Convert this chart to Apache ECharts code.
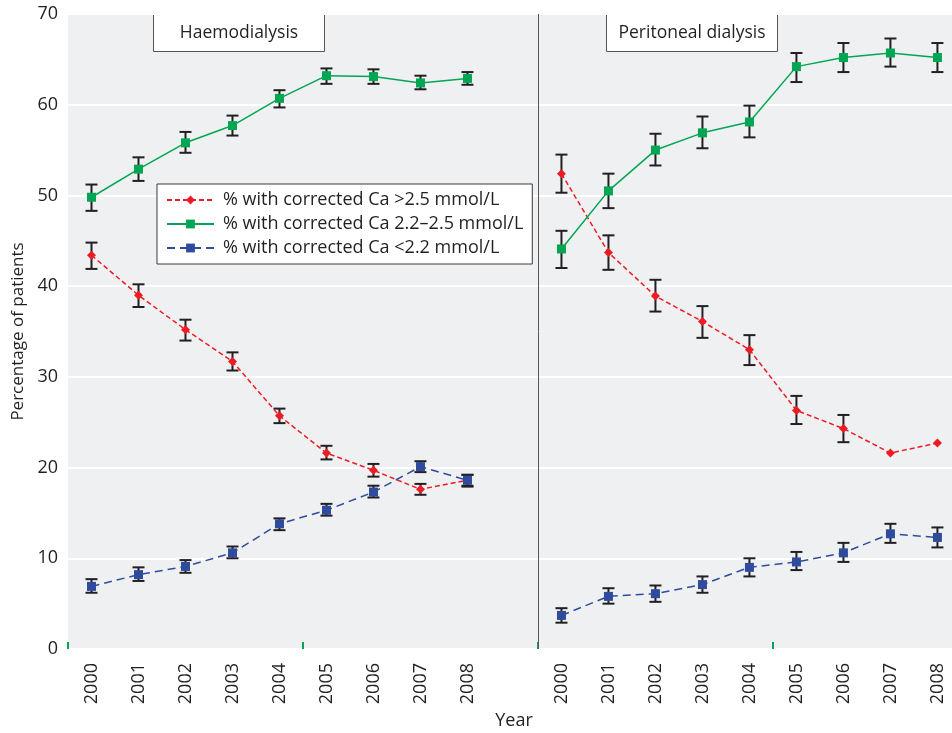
<!DOCTYPE html>
<html><head><meta charset="utf-8">
<script src="https://cdn.jsdelivr.net/npm/echarts@6/dist/echarts.min.js"></script>
<style>html,body{margin:0;padding:0;background:#fff}#c{width:952px;height:733px}</style>
</head><body><div id="c"></div>
<script>
const years = ['2000','2001','2002','2003','2004','2005','2006','2007','2008'];
const panelTitles = ['Haemodialysis','Peritoneal dialysis'];
const seriesNames = ['% with corrected Ca >2.5 mmol/L','% with corrected Ca 2.2\u20132.5 mmol/L','% with corrected Ca <2.2 mmol/L'];

// Haemodialysis
const hdHigh   = [43.4,39.0,35.2,31.7,25.7,21.6,19.7,17.6,18.6];
const hdHighLo = [41.9,37.7,34.0,30.7,24.9,20.9,19.0,17.0,18.0];
const hdHighHi = [44.8,40.2,36.3,32.7,26.5,22.4,20.4,18.2,19.2];
const hdMid    = [49.8,52.9,55.8,57.7,60.7,63.2,63.1,62.4,62.9];
const hdMidLo  = [48.3,51.6,54.7,56.6,59.7,62.3,62.3,61.7,62.2];
const hdMidHi  = [51.2,54.2,57.0,58.8,61.6,64.0,63.9,63.2,63.6];
const hdLow    = [6.9,8.2,9.1,10.6,13.8,15.3,17.3,20.1,18.6];
const hdLowLo  = [6.2,7.5,8.4,10.0,13.1,14.7,16.7,19.5,17.9];
const hdLowHi  = [7.7,9.0,9.8,11.3,14.4,16.0,18.0,20.7,19.2];

// Peritoneal dialysis
const pdHigh   = [52.4,43.7,38.9,36.1,33.0,26.3,24.3,21.6,22.7];
const pdHighLo = [50.3,41.8,37.2,34.3,31.3,24.8,22.8,null,null];
const pdHighHi = [54.5,45.6,40.7,37.8,34.6,27.9,25.8,null,null];
const pdMid    = [44.1,50.5,55.0,56.9,58.1,64.2,65.2,65.7,65.2];
const pdMidLo  = [42.0,48.6,53.3,55.2,56.4,62.5,63.6,64.2,63.6];
const pdMidHi  = [46.1,52.4,56.8,58.7,59.9,65.7,66.8,67.3,66.8];
const pdLow    = [3.7,5.8,6.1,7.1,9.0,9.6,10.6,12.7,12.3];
const pdLowLo  = [2.9,5.0,5.2,6.2,8.0,8.7,9.6,11.7,11.2];
const pdLowHi  = [4.5,6.7,7.0,8.0,10.0,10.7,11.7,13.8,13.4];

// layout: panel offsets on a continuous x axis (one unit per year)
const offsets = [0.5, 10.5];
const pos = (p, i) => offsets[p] + i;

const labelPos = [];
const labelMap = {};
offsets.forEach((o, p) => years.forEach((y, i) => { const v = pos(p, i); labelPos.push(v); labelMap[v.toFixed(1)] = y; }));

const colors = ['#ed1c24', '#00a651', '#2e4b9e'];
const symbols = ['diamond', 'rect', 'rect'];
const symSizes = [9, 9, 9];
const dashes = [[5,3], 'solid', [8,5]];

const vals = [[hdHigh, hdMid, hdLow], [pdHigh, pdMid, pdLow]];
const los  = [[hdHighLo, hdMidLo, hdLowLo], [pdHighLo, pdMidLo, pdLowLo]];
const his  = [[hdHighHi, hdMidHi, hdLowHi], [pdHighHi, pdMidHi, pdLowHi]];

const errData = [];
for (let p = 0; p < 2; p++) for (let s = 0; s < 3; s++) for (let i = 0; i < years.length; i++) {
  if (los[p][s][i] != null && his[p][s][i] != null) errData.push([pos(p, i), los[p][s][i], his[p][s][i]]);
}

const FONT = 'Open Sans';
const TXT = '#231f20';

const series = [{
  type: 'custom', name: 'err', z: 1,
  renderItem: function (params, api) {
    const x = api.value(0), lo = api.value(1), hi = api.value(2);
    const a = api.coord([x, hi]), b = api.coord([x, lo]);
    const cw = 6;
    const st = { stroke: TXT, lineWidth: 2 };
    return { type: 'group', children: [
      { type: 'line', shape: { x1: a[0], y1: a[1], x2: b[0], y2: b[1] }, style: st },
      { type: 'line', shape: { x1: a[0]-cw, y1: a[1], x2: a[0]+cw, y2: a[1] }, style: st },
      { type: 'line', shape: { x1: b[0]-cw, y1: b[1], x2: b[0]+cw, y2: b[1] }, style: st }
    ]};
  },
  encode: { x: 0, y: [1, 2] },
  data: errData,
  silent: true
}];

for (let p = 0; p < 2; p++) for (let s = 0; s < 3; s++) {
  const ser = {
    type: 'line', name: seriesNames[s], z: 3,
    data: vals[p][s].map((v, i) => [pos(p, i), v]),
    symbol: symbols[s], symbolSize: symSizes[s], showAllSymbol: true,
    itemStyle: { color: colors[s] },
    lineStyle: { color: colors[s], width: 1.5, type: dashes[s] },
    animation: false
  };
  if (p === 1 && s === 0) {
    ser.markLine = {
      silent: true, symbol: ['none', 'none'], label: { show: false },
      lineStyle: { color: '#555', width: 1, type: 'solid' },
      data: [{ xAxis: 10 }], animation: false
    };
  }
  series.push(ser);
}

const chart = echarts.init(document.getElementById('c'), null, { renderer: 'canvas' });
chart.setOption({
  animation: false,
  textStyle: { fontFamily: FONT },
  grid: { left: 68, right: 0, top: 14, bottom: 84, show: true, backgroundColor: '#eff0f2', borderWidth: 0,
    containLabel: false, outerBoundsMode: 'none' },
  xAxis: {
    type: 'value', min: 0, max: 18.81,
    axisLine: { show: false },
    splitLine: { show: false },
    axisTick: { show: true, inside: true, length: 7, customValues: [0, 5, 10, 15], lineStyle: { color: '#00a651', width: 2 } },
    axisLabel: { customValues: labelPos, rotate: 90, margin: 14, fontSize: 18, color: TXT, fontFamily: FONT,
      formatter: v => labelMap[Number(v).toFixed(1)] || '' },
    name: 'Year', nameLocation: 'middle', nameGap: 62,
    nameTextStyle: { fontSize: 18, color: TXT, fontFamily: FONT, padding: [0, 0, 0, 8] }
  },
  yAxis: {
    type: 'value', min: 0, max: 70, interval: 10,
    axisLine: { show: false }, axisTick: { show: false },
    splitLine: { show: true, lineStyle: { color: '#ffffff', width: 2 } },
    axisLabel: { fontSize: 18, color: TXT, margin: 10, fontFamily: FONT },
    name: 'Percentage of patients', nameLocation: 'middle', nameGap: 41,
    nameTextStyle: { fontSize: 17, color: TXT, fontFamily: FONT }
  },
  legend: {
    data: seriesNames, orient: 'vertical', left: 157, top: 184,
    itemWidth: 47, itemHeight: 11, itemGap: 6,
    padding: [7, 9, 7, 9],
    backgroundColor: '#ffffff', borderColor: '#3a3a3a', borderWidth: 1, borderRadius: 0,
    textStyle: { fontSize: 18, color: TXT, fontFamily: FONT, lineHeight: 18, padding: [0, 0, 0, 4] },
    selectedMode: false
  },
  graphic: [
    { type: 'group', left: 153, top: 14, z: 100, children: [
      { type: 'rect', shape: { x: 0, y: 0, width: 171, height: 37 }, style: { fill: '#fff', stroke: '#555', lineWidth: 1 } },
      { type: 'text', x: 85.5, y: 18.5, style: { text: panelTitles[0], fontSize: 17.5, fontFamily: FONT, fill: TXT, align: 'center', verticalAlign: 'middle' } }
    ]},
    { type: 'group', left: 606, top: 14, z: 100, children: [
      { type: 'rect', shape: { x: 0, y: 0, width: 171, height: 37 }, style: { fill: '#fff', stroke: '#555', lineWidth: 1 } },
      { type: 'text', x: 85.5, y: 18.5, style: { text: panelTitles[1], fontSize: 17.5, fontFamily: FONT, fill: TXT, align: 'center', verticalAlign: 'middle' } }
    ]}
  ],
  series: series
});
</script>
</body></html>
